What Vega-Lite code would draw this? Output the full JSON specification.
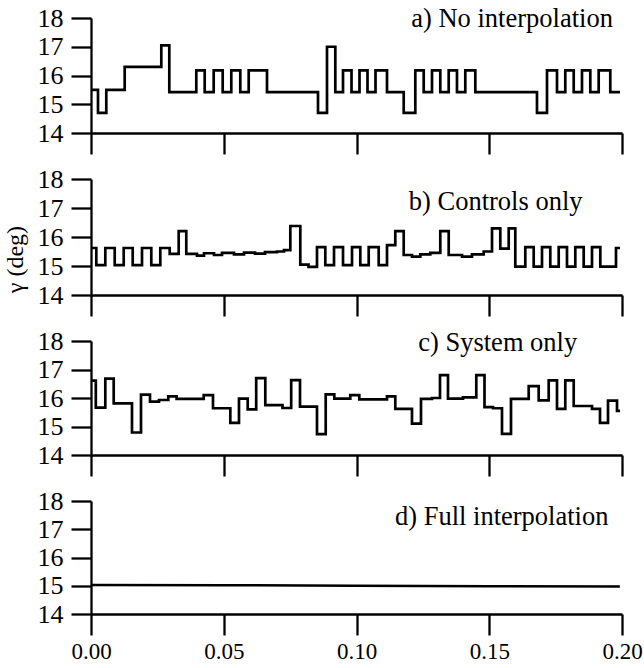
{
  "$schema": "https://vega.github.io/schema/vega-lite/v6.json",
  "padding": {"left": 3, "top": 5, "right": 0, "bottom": 0},
  "bounds": "flush",
  "spacing": 46,
  "background": "white",
  "datasets": {
    "a": [
      {"x": 0, "y": 15.5}, {"x": 0.00264, "y": 14.7}, {"x": 0.00576, "y": 15.5}, {"x": 0.01269, "y": 16.3},
      {"x": 0.02648, "y": 17.05}, {"x": 0.02949, "y": 15.42}, {"x": 0.03966, "y": 16.18}, {"x": 0.04282, "y": 15.42},
      {"x": 0.04621, "y": 16.18}, {"x": 0.0496, "y": 15.42}, {"x": 0.05284, "y": 16.18}, {"x": 0.05623, "y": 15.42},
      {"x": 0.0594, "y": 16.18}, {"x": 0.06629, "y": 15.42}, {"x": 0.0855, "y": 14.7}, {"x": 0.08889, "y": 17.0},
      {"x": 0.09202, "y": 15.42}, {"x": 0.09492, "y": 16.18}, {"x": 0.09812, "y": 15.42}, {"x": 0.10113, "y": 16.18},
      {"x": 0.10414, "y": 15.42}, {"x": 0.10716, "y": 16.18}, {"x": 0.11149, "y": 15.42}, {"x": 0.11778, "y": 14.7},
      {"x": 0.12215, "y": 16.18}, {"x": 0.12531, "y": 15.42}, {"x": 0.12844, "y": 16.18}, {"x": 0.13156, "y": 15.42},
      {"x": 0.13473, "y": 16.18}, {"x": 0.13785, "y": 15.42}, {"x": 0.14098, "y": 16.18}, {"x": 0.14475, "y": 15.42},
      {"x": 0.16798, "y": 14.7}, {"x": 0.17175, "y": 16.18}, {"x": 0.17552, "y": 15.42}, {"x": 0.17864, "y": 16.18},
      {"x": 0.18181, "y": 15.42}, {"x": 0.18493, "y": 16.18}, {"x": 0.18806, "y": 15.42}, {"x": 0.19122, "y": 16.18},
      {"x": 0.19559, "y": 15.42}, {"x": 0.19925, "y": 15.42}
    ],
    "b": [
      {"x": 0, "y": 15.62}, {"x": 0.002, "y": 15.03}, {"x": 0.00539, "y": 15.62}, {"x": 0.00893, "y": 15.03},
      {"x": 0.01232, "y": 15.62}, {"x": 0.01571, "y": 15.03}, {"x": 0.01921, "y": 15.62}, {"x": 0.02271, "y": 15.03},
      {"x": 0.0261, "y": 15.62}, {"x": 0.02964, "y": 15.42}, {"x": 0.03303, "y": 16.2}, {"x": 0.03589, "y": 15.42},
      {"x": 0.03992, "y": 15.36}, {"x": 0.04256, "y": 15.44}, {"x": 0.04633, "y": 15.38}, {"x": 0.04934, "y": 15.45},
      {"x": 0.05386, "y": 15.4}, {"x": 0.05763, "y": 15.46}, {"x": 0.06177, "y": 15.43}, {"x": 0.06554, "y": 15.48},
      {"x": 0.07006, "y": 15.5}, {"x": 0.07269, "y": 15.55}, {"x": 0.07507, "y": 16.38}, {"x": 0.07883, "y": 15.05},
      {"x": 0.08192, "y": 14.97}, {"x": 0.08512, "y": 15.65}, {"x": 0.08825, "y": 15.03}, {"x": 0.09153, "y": 15.65},
      {"x": 0.09492, "y": 15.03}, {"x": 0.09831, "y": 15.65}, {"x": 0.10143, "y": 15.03}, {"x": 0.1046, "y": 15.65},
      {"x": 0.10836, "y": 15.03}, {"x": 0.11149, "y": 15.72}, {"x": 0.11461, "y": 16.2}, {"x": 0.11778, "y": 15.38},
      {"x": 0.1209, "y": 15.32}, {"x": 0.12403, "y": 15.4}, {"x": 0.1278, "y": 15.45}, {"x": 0.13156, "y": 16.2},
      {"x": 0.13473, "y": 15.38}, {"x": 0.13974, "y": 15.32}, {"x": 0.1435, "y": 15.4}, {"x": 0.14791, "y": 15.5},
      {"x": 0.15104, "y": 16.3}, {"x": 0.15416, "y": 15.6}, {"x": 0.15733, "y": 16.3}, {"x": 0.15981, "y": 14.98},
      {"x": 0.16358, "y": 15.65}, {"x": 0.16674, "y": 14.98}, {"x": 0.16987, "y": 15.65}, {"x": 0.17299, "y": 14.98},
      {"x": 0.17616, "y": 15.65}, {"x": 0.17928, "y": 14.98}, {"x": 0.18241, "y": 15.65}, {"x": 0.18557, "y": 14.98},
      {"x": 0.1887, "y": 15.65}, {"x": 0.19183, "y": 14.98}, {"x": 0.19774, "y": 15.62}, {"x": 0.19925, "y": 15.62}
    ],
    "c": [
      {"x": 0, "y": 16.61}, {"x": 0.00181, "y": 15.66}, {"x": 0.00539, "y": 16.68}, {"x": 0.00855, "y": 15.81},
      {"x": 0.01544, "y": 14.79}, {"x": 0.01883, "y": 16.12}, {"x": 0.02222, "y": 15.87}, {"x": 0.02561, "y": 15.93},
      {"x": 0.02911, "y": 16.06}, {"x": 0.03224, "y": 15.97}, {"x": 0.04245, "y": 16.1}, {"x": 0.04595, "y": 15.64},
      {"x": 0.05247, "y": 15.13}, {"x": 0.05574, "y": 15.98}, {"x": 0.05902, "y": 15.6}, {"x": 0.06222, "y": 16.7},
      {"x": 0.06565, "y": 15.75}, {"x": 0.07213, "y": 15.65}, {"x": 0.0754, "y": 16.63}, {"x": 0.07872, "y": 15.7},
      {"x": 0.08512, "y": 14.73}, {"x": 0.0884, "y": 16.13}, {"x": 0.09164, "y": 15.98}, {"x": 0.09766, "y": 16.1},
      {"x": 0.10105, "y": 15.95}, {"x": 0.11149, "y": 16.06}, {"x": 0.11461, "y": 15.62}, {"x": 0.1209, "y": 15.1},
      {"x": 0.12429, "y": 15.97}, {"x": 0.12844, "y": 16.0}, {"x": 0.13145, "y": 16.8}, {"x": 0.13446, "y": 15.98},
      {"x": 0.14011, "y": 16.02}, {"x": 0.14512, "y": 16.8}, {"x": 0.14821, "y": 15.68}, {"x": 0.15141, "y": 15.64},
      {"x": 0.1548, "y": 14.74}, {"x": 0.15819, "y": 15.97}, {"x": 0.16486, "y": 16.42}, {"x": 0.16862, "y": 15.92},
      {"x": 0.17239, "y": 16.62}, {"x": 0.17552, "y": 15.62}, {"x": 0.17864, "y": 16.62}, {"x": 0.18181, "y": 15.72},
      {"x": 0.1887, "y": 15.62}, {"x": 0.19171, "y": 15.13}, {"x": 0.19473, "y": 15.91}, {"x": 0.19812, "y": 15.55},
      {"x": 0.19925, "y": 15.55}
    ],
    "d": [
      {"x": 0, "y": 15.03}, {"x": 0.05, "y": 15.02}, {"x": 0.1, "y": 15.0}, {"x": 0.15, "y": 14.98}, {"x": 0.1992, "y": 14.97}
    ],
    "labels": [
      {"panel": "a", "label": "a) No interpolation", "x": 0.1586, "y": 17.95},
      {"panel": "b", "label": "b) Controls only", "x": 0.1524, "y": 17.22},
      {"panel": "c", "label": "c) System only", "x": 0.1532, "y": 17.93},
      {"panel": "d", "label": "d) Full interpolation", "x": 0.1547, "y": 17.45}
    ]
  },
  "vconcat": [
    {
      "width": 531, "height": 115,
      "encoding": {
        "x": {"field": "x", "type": "quantitative", "scale": {"domain": [0, 0.2], "nice": false, "zero": false},
              "axis": {"title": null, "values": [0, 0.05, 0.1, 0.15, 0.2], "tickSize": 21, "labels": false}},
        "y": {"field": "y", "type": "quantitative", "scale": {"domain": [14, 18], "nice": false, "zero": false},
              "axis": {"title": null, "values": [14, 15, 16, 17, 18], "tickSize": 20, "labelPadding": 8}}
      },
      "layer": [
        {"data": {"name": "a"}, "mark": {"type": "line", "interpolate": "step-after", "color": "black", "strokeWidth": 2.7}},
        {"data": {"name": "labels"}, "transform": [{"filter": "datum.panel === 'a'"}],
         "mark": {"type": "text", "align": "center", "baseline": "middle", "fontSize": 26.5, "font": "Times New Roman", "color": "black"},
         "encoding": {"text": {"field": "label"}}}
      ]
    },
    {
      "width": 531, "height": 116,
      "encoding": {
        "x": {"field": "x", "type": "quantitative", "scale": {"domain": [0, 0.2], "nice": false, "zero": false},
              "axis": {"title": null, "values": [0, 0.05, 0.1, 0.15, 0.2], "tickSize": 21, "labels": false}},
        "y": {"field": "y", "type": "quantitative", "scale": {"domain": [14, 18], "nice": false, "zero": false},
              "axis": {"title": "γ (deg)", "values": [14, 15, 16, 17, 18], "tickSize": 20, "labelPadding": 8,
                       "titleX": -76, "titleY": 80, "titleAngle": -90, "titleAlign": "center", "titleBaseline": "middle",
                       "titleFontSize": 24, "titleFontWeight": "normal", "titleFont": "Times New Roman", "titleColor": "black"}}
      },
      "layer": [
        {"data": {"name": "b"}, "mark": {"type": "line", "interpolate": "step-after", "color": "black", "strokeWidth": 2.7}},
        {"data": {"name": "labels"}, "transform": [{"filter": "datum.panel === 'b'"}],
         "mark": {"type": "text", "align": "center", "baseline": "middle", "fontSize": 26.5, "font": "Times New Roman", "color": "black"},
         "encoding": {"text": {"field": "label"}}}
      ]
    },
    {
      "width": 531, "height": 114,
      "encoding": {
        "x": {"field": "x", "type": "quantitative", "scale": {"domain": [0, 0.2], "nice": false, "zero": false},
              "axis": {"title": null, "values": [0, 0.05, 0.1, 0.15, 0.2], "tickSize": 21, "labels": false}},
        "y": {"field": "y", "type": "quantitative", "scale": {"domain": [14, 18], "nice": false, "zero": false},
              "axis": {"title": null, "values": [14, 15, 16, 17, 18], "tickSize": 20, "labelPadding": 8}}
      },
      "layer": [
        {"data": {"name": "c"}, "mark": {"type": "line", "interpolate": "step-after", "color": "black", "strokeWidth": 2.7}},
        {"data": {"name": "labels"}, "transform": [{"filter": "datum.panel === 'c'"}],
         "mark": {"type": "text", "align": "center", "baseline": "middle", "fontSize": 26.5, "font": "Times New Roman", "color": "black"},
         "encoding": {"text": {"field": "label"}}}
      ]
    },
    {
      "width": 531, "height": 113,
      "encoding": {
        "x": {"field": "x", "type": "quantitative", "scale": {"domain": [0, 0.2], "nice": false, "zero": false},
              "axis": {"title": null, "values": [0, 0.05, 0.1, 0.15, 0.2], "tickSize": 21, "format": ".2f", "labelPadding": 5, "labelFontSize": 23}},
        "y": {"field": "y", "type": "quantitative", "scale": {"domain": [14, 18], "nice": false, "zero": false},
              "axis": {"title": null, "values": [14, 15, 16, 17, 18], "tickSize": 20, "labelPadding": 8}}
      },
      "layer": [
        {"data": {"name": "d"}, "mark": {"type": "line", "color": "black", "strokeWidth": 2.5}},
        {"data": {"name": "labels"}, "transform": [{"filter": "datum.panel === 'd'"}],
         "mark": {"type": "text", "align": "center", "baseline": "middle", "fontSize": 26.5, "font": "Times New Roman", "color": "black"},
         "encoding": {"text": {"field": "label"}}}
      ]
    }
  ],
  "config": {
    "font": "Times New Roman",
    "view": {"stroke": null},
    "text": {"font": "Times New Roman"},
    "axis": {
      "grid": false, "domainColor": "black", "domainWidth": 2.3, "tickColor": "black", "tickWidth": 2.3,
      "labelColor": "black", "labelFontSize": 26, "labelFont": "Times New Roman", "labelFlush": false
    }
  }
}
